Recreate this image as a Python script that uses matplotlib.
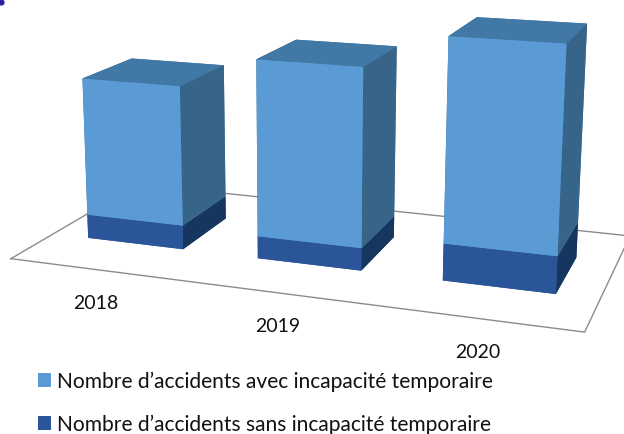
import matplotlib
matplotlib.use("Agg")
import numpy as np
import matplotlib.pyplot as plt
from matplotlib.patches import Patch
from matplotlib.lines import Line2D

years = ["2018", "2019", "2020"]
avec = [46.4, 57.6, 64.2]
sans = [8.1, 7.4, 11.9]
label_avec = "Nombre d\u2019accidents avec incapacit\u00e9 temporaire"
label_sans = "Nombre d\u2019accidents sans incapacit\u00e9 temporaire"

W, H = 624, 435
plt.rcParams["font.family"] = ["Lato", "DejaVu Sans"]
fig = plt.figure(figsize=(W / 100, H / 100), dpi=100)

# camera: principal point and focal length in pixels
cx, cy, focal = 299.5, 122.5, 1428
S = focal * 0.19
ax = fig.add_axes([(cx - S / 2) / W, (H - cy - S / 2) / H, S / W, S / H],
                  projection="3d", computed_zorder=False)
ax.set_axis_off()
ax.patch.set_alpha(0)
ax.view_init(elev=13.5, azim=-70)
ax.set_proj_type("persp", focal_length=1.0)

xlim = (-0.662, 3.338)
ylim = (-0.0612, 1.1388)
zlim = (0, 84)
dims = np.array([5.11, 2.298, 1.757])

C_top = {"up": ["#5B9BD5", "#4178A5", "#5B9BD5", "#4178A5", "#366589", "#366589"],
         "lo": ["#2A5699", "#2A5699", "#2A5699", "#2A5699", "#17365F", "#17365F"]}

ax.plot([0, 3, 3, 0, 0], [0, 0, 1, 1, 0], [0, 0, 0, 0, 0],
        color="#8C8C8C", lw=1.0, clip_on=False, zorder=1)

bw, bd = 0.57, 0.39
z = 2
for i in range(len(years)):
    xl = i + 0.5 - bw / 2
    yf = 0.30
    p = ax.bar3d(xl, yf, 0, bw, bd, sans[i], color=C_top["lo"], shade=False,
                 edgecolor="none", linewidth=0, zorder=z)
    p.set_clip_on(False)
    q = ax.bar3d(xl, yf, sans[i], bw, bd, avec[i], color=C_top["up"], shade=False,
                 edgecolor="none", linewidth=0, zorder=z + 1)
    q.set_clip_on(False)
    z += 2

ax.set_xlim(*xlim)
ax.set_ylim(*ylim)
ax.set_zlim(*zlim)
ax.set_box_aspect(dims, zoom=np.linalg.norm(dims) / (1.8294640721620434 * 25 / 24))

# category labels
for yr, (px, py) in zip(years, [(96, 303.5), (278, 326.5), (478, 352.5)]):
    fig.text(px / W, 1 - py / H, yr, ha="center", va="center", fontsize=14, color="#111111")

handles = [Patch(facecolor="#5B9BD5", label=label_avec),
           Patch(facecolor="#2A5699", label=label_sans)]
fig.legend(handles=handles, loc="lower left", bbox_to_anchor=(38 / W, -0.5 / H),
           bbox_transform=fig.transFigure, frameon=False, fontsize=15.1,
           handlelength=0.62, handleheight=0.62, handletextpad=0.3,
           labelspacing=1.08, borderpad=0, borderaxespad=0, labelcolor="#111111")

fig.add_artist(Line2D([0.5 / W], [1 - 2.5 / H], marker="o", ms=4.5, color="#2A1FA0",
                      mew=0, transform=fig.transFigure))

fig.savefig("out.png", dpi=100, facecolor="white")
